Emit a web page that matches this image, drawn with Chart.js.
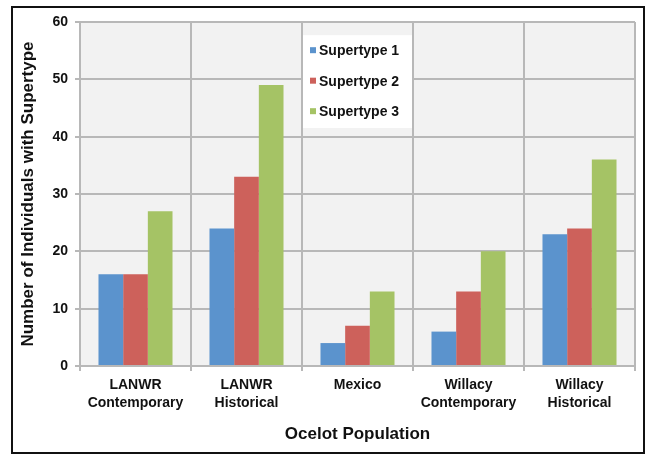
<!DOCTYPE html>
<html lang="en">
<head>
    <meta charset="UTF-8">
    <title>Ocelot Population - Supertypes</title>
    <script src="https://cdn.jsdelivr.net/npm/chart.js"></script>
    <style>
        body {
            margin: 0;
            background: #fff;
        }
        #frame {
            position: absolute;
            left: 11px;
            top: 6px;
            width: 630px;
            height: 444px;
            border: 2px solid #111;
        }
        #wrap {
            position: absolute;
            left: 0;
            top: 0;
            width: 646px;
            height: 454px;
        }
    </style>
</head>
<body>

    <div id="frame"></div>
    <div id="wrap"><canvas id="chart" width="646" height="454"></canvas></div>

    <script>
        // data
        const populations = [
            ['LANWR', 'Contemporary'],
            ['LANWR', 'Historical'],
            'Mexico',
            ['Willacy', 'Contemporary'],
            ['Willacy', 'Historical']
        ];
        const supertype1 = [16, 24, 4, 6, 23];
        const supertype2 = [16, 33, 7, 13, 24];
        const supertype3 = [27, 49, 13, 20, 36];
        const yTicks = [0, 10, 20, 30, 40, 50, 60];

        const family = 'Arial, "Liberation Sans", sans-serif';
        const tickFont = { family: family, size: 14, weight: 'bold', lineHeight: 1.3 };

        // plot background
        const plotBg = {
            id: 'plotBg',
            beforeDraw(chart) {
                const a = chart.chartArea, ctx = chart.ctx;
                ctx.save();
                ctx.fillStyle = '#f2f2f2';
                ctx.fillRect(a.left, a.top, a.right - a.left, a.bottom - a.top);
                ctx.restore();
            }
        };

        // legend box inside the plot, over the Mexico column
        const boxLegend = {
            id: 'boxLegend',
            afterDraw(chart) {
                const ctx = chart.ctx;
                const x = chart.scales.x, y = chart.scales.y;
                const left = (x.getPixelForValue(1) + x.getPixelForValue(2)) / 2 + 1;
                const right = (x.getPixelForValue(2) + x.getPixelForValue(3)) / 2 - 1;
                const top = y.getPixelForValue(57.7);
                const bottom = y.getPixelForValue(41.5);
                ctx.save();
                ctx.fillStyle = '#ffffff';
                ctx.fillRect(left, top, right - left, bottom - top);
                ctx.font = 'bold 14px ' + family;
                ctx.textBaseline = 'middle';
                chart.data.datasets.forEach((ds, i) => {
                    const cy = top + 15 + i * 30.5;
                    ctx.fillStyle = ds.backgroundColor;
                    ctx.fillRect(left + 7, cy - 3, 6, 6);
                    ctx.fillStyle = '#111';
                    ctx.fillText(ds.label, left + 16, cy + 1);
                });
                ctx.restore();
            }
        };

        new Chart(document.getElementById('chart').getContext('2d'), {
            type: 'bar',
            data: {
                labels: populations,
                datasets: [
                    { label: 'Supertype 1', data: supertype1, backgroundColor: '#5b93cd' },
                    { label: 'Supertype 2', data: supertype2, backgroundColor: '#cd615b' },
                    { label: 'Supertype 3', data: supertype3, backgroundColor: '#a5c365' }
                ]
            },
            options: {
                responsive: false,
                animation: false,
                layout: { padding: { left: 0, top: 22, right: 11, bottom: 0 } },
                datasets: { bar: { categoryPercentage: 0.667, barPercentage: 1.0 } },
                plugins: {
                    legend: { display: false },
                    tooltip: { enabled: false }
                },
                scales: {
                    x: {
                        afterFit(s) { s.height = 88; },
                        grid: { color: '#b8b8b8', lineWidth: 2, offset: true, tickLength: 5 },
                        border: { color: '#b8b8b8', width: 2 },
                        ticks: { color: '#111', font: tickFont, padding: 5, maxRotation: 0 },
                        title: {
                            display: true,
                            text: 'Ocelot Population',
                            color: '#111',
                            font: { family: family, size: 17, weight: 'bold' },
                            padding: { top: 0, bottom: 9 }
                        }
                    },
                    y: {
                        min: 0,
                        max: 60,
                        afterFit(s) { s.width = 80; },
                        afterBuildTicks(s) { s.ticks = yTicks.map(v => ({ value: v })); },
                        grid: { color: '#b8b8b8', lineWidth: 2, tickLength: 5 },
                        border: { color: '#b8b8b8', width: 2 },
                        ticks: { color: '#111', font: { family: family, size: 14, weight: 'bold' }, padding: 7 },
                        title: {
                            display: true,
                            text: 'Number of Individuals with Supertype',
                            color: '#111',
                            font: { family: family, size: 17, weight: 'bold' },
                            padding: { top: 18, bottom: 0 }
                        }
                    }
                }
            },
            plugins: [plotBg, boxLegend]
        });
    </script>

</body>
</html>
